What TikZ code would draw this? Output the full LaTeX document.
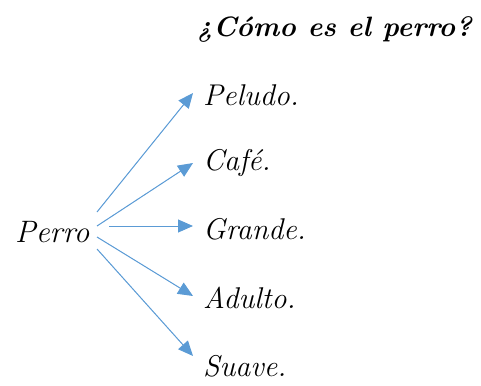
\documentclass[tikz,border=0pt]{standalone}
\usetikzlibrary{arrows.meta}
\definecolor{arrowblue}{RGB}{91,155,213}
\begin{document}
\begin{tikzpicture}[x=1pt,y=-1pt,
  word/.style={anchor=west,inner xsep=10pt,inner ysep=0pt,font=\fontsize{30}{32}\selectfont\itshape},
  conn/.style={draw=arrowblue,line width=1pt,-{Triangle[length=15pt,width=13pt]},fill=arrowblue}]
\useasboundingbox (0,0) rectangle (481,385);
\node[anchor=east,font=\fontsize{28}{30}\selectfont\bfseries\itshape,inner sep=0pt] (title) at (472,30) {¿Cómo es el perro?};
\node[anchor=west,font=\fontsize{31}{33}\selectfont\itshape,inner sep=0pt] (perro) at (15,232) {Perro};
\node[word] (peludo) at (193,95) {Peludo.};
\node[word] (cafe) at (193,163) {Café.};
\node[word] (grande) at (193,229) {Grande.};
\node[word] (adulto) at (193,298) {Adulto.};
\node[word] (suave) at (193,366) {Suave.};
\coordinate (s1) at (97,212);
\coordinate (s2) at (97,226);
\coordinate (s3) at (109,226);
\coordinate (s4) at (97,237);
\coordinate (s5) at (97,249);
\coordinate (t1) at (193,93);
\coordinate (t2) at (193,163);
\coordinate (t3) at (193,226);
\coordinate (t4) at (193,296);
\coordinate (t5) at (193,356);
\draw[conn] (s1) -- (t1);
\draw[conn] (s2) -- (t2);
\draw[conn] (s3) -- (t3);
\draw[conn] (s4) -- (t4);
\draw[conn] (s5) -- (t5);
\end{tikzpicture}
\end{document}
